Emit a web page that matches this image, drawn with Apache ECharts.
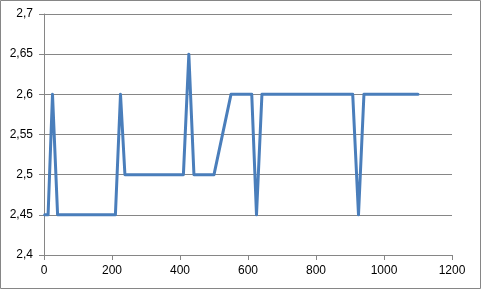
<!DOCTYPE html>
<html><head><meta charset="utf-8">
<script src="https://cdn.jsdelivr.net/npm/echarts@6/dist/echarts.min.js"></script>
<style>html,body{margin:0;padding:0;background:#fff}#c{width:481px;height:289px}</style>
</head><body><div id="c"></div>
<script>
const xValues = [2, 12, 25, 40, 210, 225, 238, 410, 426, 441, 500, 550, 611, 625, 641, 908, 925, 941, 1100];
const yValues = [2.45, 2.45, 2.6, 2.45, 2.45, 2.6, 2.5, 2.5, 2.65, 2.5, 2.5, 2.6, 2.6, 2.45, 2.6, 2.6, 2.45, 2.6, 2.6];
const xTicks = [0, 200, 400, 600, 800, 1000, 1200];
const yTicks = [2.4, 2.45, 2.5, 2.55, 2.6, 2.65, 2.7];

const chart = echarts.init(document.getElementById('c'), null, {renderer: 'canvas'});
const fmtY = v => String(+v.toFixed(2)).replace('.', ',');
const fmtX = v => String(Math.round(v));
const lab = {color: '#000', fontFamily: 'Liberation Sans, Arial, sans-serif', fontSize: 12};
chart.setOption({
  animation: false,
  graphic: [{type: 'rect', shape: {x: 0.5, y: 0.5, width: 480, height: 288}, style: {fill: 'none', stroke: '#868686', lineWidth: 1}, silent: true}],
  grid: {left: 44, right: 29, top: 14, bottom: 34, containLabel: false},
  xAxis: {
    type: 'value', min: xTicks[0], max: xTicks[xTicks.length - 1], interval: 200,
    axisLine: {show: true, onZero: false, lineStyle: {color: '#868686', width: 1}},
    axisTick: {show: true, length: 5, lineStyle: {color: '#868686'}},
    axisLabel: Object.assign({margin: 10, formatter: fmtX}, lab),
    splitLine: {show: false}
  },
  yAxis: {
    type: 'value', min: yTicks[0], max: yTicks[yTicks.length - 1], interval: 0.05,
    axisLine: {show: true, lineStyle: {color: '#868686', width: 1}},
    axisTick: {show: true, length: 5, lineStyle: {color: '#868686'}},
    axisLabel: Object.assign({margin: 11, formatter: fmtY}, lab),
    splitLine: {show: true, lineStyle: {color: '#868686', width: 1}}
  },
  series: [{
    type: 'line',
    data: xValues.map((x, i) => [x, yValues[i]]),
    symbol: 'none',
    lineStyle: {color: '#4a7ebb', width: 3, join: 'round', cap: 'round'}
  }]
});
</script></body></html>
